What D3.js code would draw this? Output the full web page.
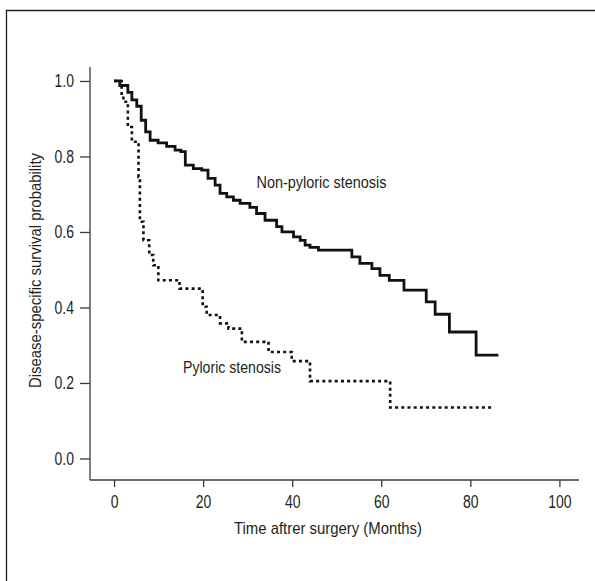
<!DOCTYPE html>
<html>
<head>
<meta charset="utf-8">
<script src="https://cdn.jsdelivr.net/npm/d3@7"></script>
<style>
  html, body { margin: 0; padding: 0; background: #fff; }
  svg { display: block; }
  text { font-family: "Liberation Sans", Arial, sans-serif; fill: #231f20; }
</style>
</head>
<body>
<svg id="chart" width="595" height="581"></svg>
<script>
// ---- Data ----
const xTicks = [0, 20, 40, 60, 80, 100];
const yTicks = [0.0, 0.2, 0.4, 0.6, 0.8, 1.0];

const nonPyloricTime = [0, 1.3, 3.1, 4.0, 5.1, 6.1, 7.1, 8.1, 9.9, 11.8, 13.7, 15.0, 16.0, 17.8, 19.7, 21.1, 22.7, 23.8, 25.3, 26.8, 28.3, 30.5, 32.0, 33.9, 36.5, 37.7, 40.3, 41.8, 42.9, 44.0, 45.9, 53.4, 55.2, 57.9, 59.7, 61.8, 65.1, 70.1, 72.1, 75.3, 81.3, 86.3];
const nonPyloricSurv = [1.0, 0.988, 0.970, 0.950, 0.933, 0.896, 0.865, 0.843, 0.836, 0.827, 0.817, 0.813, 0.777, 0.768, 0.764, 0.742, 0.724, 0.702, 0.693, 0.684, 0.676, 0.665, 0.649, 0.631, 0.614, 0.600, 0.587, 0.578, 0.565, 0.559, 0.552, 0.534, 0.517, 0.503, 0.485, 0.472, 0.446, 0.415, 0.382, 0.335, 0.274, 0.274];

const pyloricTime = [0, 1.7, 2.1, 3.1, 4.0, 5.5, 5.8, 6.6, 7.9, 8.8, 9.95, 14.7, 19.9, 20.8, 23.8, 25.7, 28.7, 34.7, 39.9, 44.0, 62.0, 85.2];
const pyloricSurv = [1.0, 0.962, 0.945, 0.878, 0.839, 0.746, 0.627, 0.578, 0.539, 0.512, 0.472, 0.450, 0.402, 0.380, 0.358, 0.344, 0.309, 0.282, 0.258, 0.205, 0.135, 0.135];

const xLabel = "Time aftrer surgery (Months)";
const yLabel = "Disease-specific survival probability";
const seriesNames = ["Non-pyloric stenosis", "Pyloric stenosis"];

// ---- Drawing ----
const svg = d3.select("#chart");
const condensed = 0.8;   // mimic a condensed typeface
function condense(sel, target) {
  sel.each(function () {
    const w = this.getComputedTextLength();
    d3.select(this)
      .attr("textLength", target ? target : w * condensed)
      .attr("lengthAdjust", "spacingAndGlyphs");
  });
}

// outer frame (left + top edges visible in the crop)
svg.append("path")
  .attr("d", "M6.5,581 V10.5 H595")
  .attr("fill", "none")
  .attr("stroke", "#231f20")
  .attr("stroke-width", 1.3);

const x = d3.scaleLinear().domain([-5.4, 104.4]).range([90, 579]);
const y = d3.scaleLinear().domain([-0.057, 1.037]).range([480, 67]);

const axisColor = "#3a3a3a";
const tickFont = 17.5;
const textFont = 17;

// X axis
const gx = svg.append("g").attr("transform", `translate(0,${y(-0.057)})`)
  .call(d3.axisBottom(x).tickValues(xTicks).tickSize(7).tickPadding(9).tickFormat(d3.format("d")));
gx.select(".domain").attr("stroke", axisColor).attr("stroke-width", 1.3).attr("d", `M${x(-5.4)},0H${x(104.4)}`);
gx.selectAll(".tick line").attr("stroke", axisColor).attr("stroke-width", 1.3);
gx.selectAll(".tick text").attr("font-size", tickFont).attr("font-family", null).style("fill", "#231f20").call(condense);

// Y axis
const gy = svg.append("g").attr("transform", `translate(${x(-5.4)},0)`)
  .call(d3.axisLeft(y).tickValues(yTicks).tickSize(10).tickPadding(6).tickFormat(d3.format(".1f")));
gy.select(".domain").attr("stroke", axisColor).attr("stroke-width", 1.3).attr("d", `M0,${y(1.037)}V${y(-0.057)}`);
gy.selectAll(".tick line").attr("stroke", axisColor).attr("stroke-width", 1.3);
gy.selectAll(".tick text").attr("font-size", tickFont).attr("font-family", null).style("fill", "#231f20").call(condense);

// Axis titles
svg.append("text")
  .attr("x", 328)
  .attr("y", 534)
  .attr("text-anchor", "middle")
  .attr("font-size", textFont)
  .text(xLabel)
  .call(condense, 188);

svg.append("text")
  .attr("transform", `translate(40.5,270.5) rotate(-90)`)
  .attr("text-anchor", "middle")
  .attr("font-size", textFont)
  .text(yLabel)
  .call(condense, 235);

// Curves
const line = d3.line()
  .x(d => x(d[0]))
  .y(d => y(d[1]))
  .curve(d3.curveStepAfter);

const nonPylData = nonPyloricTime.map((t, i) => [t, nonPyloricSurv[i]]);
const pylData = pyloricTime.map((t, i) => [t, pyloricSurv[i]]);

svg.append("path")
  .datum(pylData)
  .attr("d", line)
  .attr("fill", "none")
  .attr("stroke", "#111")
  .attr("stroke-width", 2.6)
  .attr("stroke-dasharray", "3,3.2");

svg.append("path")
  .datum(nonPylData)
  .attr("d", line)
  .attr("fill", "none")
  .attr("stroke", "#111")
  .attr("stroke-width", 2.8)
  .attr("stroke-linejoin", "miter");

// Curve labels
svg.append("text")
  .attr("x", 256.5)
  .attr("y", 188)
  .attr("font-size", textFont)
  .text(seriesNames[0])
  .call(condense, 130);

svg.append("text")
  .attr("x", 183)
  .attr("y", 373)
  .attr("font-size", textFont)
  .text(seriesNames[1])
  .call(condense, 98);
</script>
</body>
</html>
